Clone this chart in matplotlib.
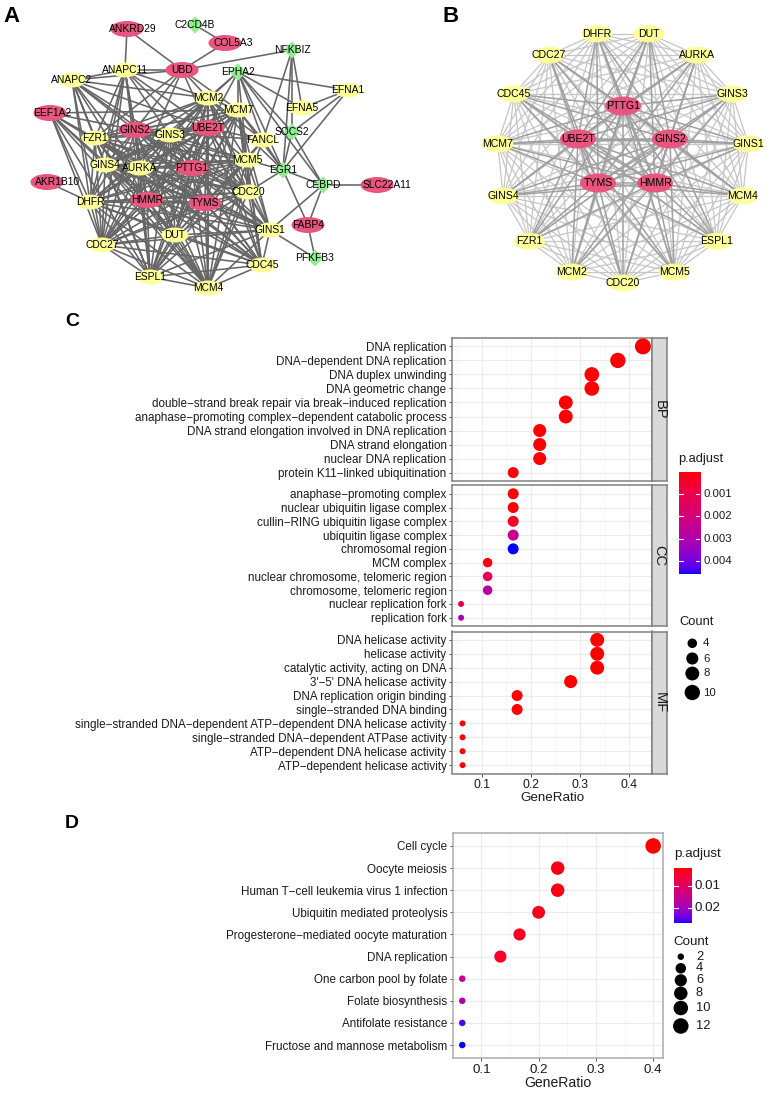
import numpy as np
import matplotlib
matplotlib.use("Agg")
import matplotlib.pyplot as plt
from matplotlib import font_manager
from matplotlib.patches import Ellipse, Polygon
from matplotlib.collections import LineCollection
from itertools import combinations

W, H, DPI = 770, 1095, 100

_names = {f.name for f in font_manager.fontManager.ttflist}
NARROW = 'Liberation Sans Narrow' in _names
GG_FAMILY = ['Liberation Sans Narrow' if NARROW else 'Liberation Sans', 'DejaVu Sans']
GG_K = 1.0 if NARROW else 0.84
plt.rcParams['font.family'] = ['Liberation Sans', 'DejaVu Sans']


def gg(size):
    return dict(fontfamily=GG_FAMILY, fontsize=size * GG_K)

# ----------------------------------------------------------------- data
# Panel C: GO enrichment
bp_terms = ['DNA replication', 'DNA−dependent DNA replication', 'DNA duplex unwinding',
            'DNA geometric change', 'double−strand break repair via break−induced replication',
            'anaphase−promoting complex−dependent catabolic process',
            'DNA strand elongation involved in DNA replication', 'DNA strand elongation',
            'nuclear DNA replication', 'protein K11−linked ubiquitination']
bp_ratio = [0.428, 0.377, 0.324, 0.324, 0.271, 0.271, 0.218, 0.218, 0.218, 0.164]
bp_count = [11, 10, 9, 9, 8, 8, 7, 7, 7, 5]
bp_padj = [2e-7, 4e-7, 1e-6, 1e-6, 5e-6, 8e-6, 1e-5, 1e-5, 2e-5, 6e-5]

cc_terms = ['anaphase−promoting complex', 'nuclear ubiquitin ligase complex',
            'cullin−RING ubiquitin ligase complex', 'ubiquitin ligase complex',
            'chromosomal region', 'MCM complex', 'nuclear chromosome, telomeric region',
            'chromosome, telomeric region', 'nuclear replication fork', 'replication fork']
cc_ratio = [0.164, 0.164, 0.164, 0.164, 0.164, 0.112, 0.112, 0.112, 0.058, 0.058]
cc_count = [5, 5, 5, 5, 5, 4, 4, 4, 3, 3]
cc_padj = [2e-5, 5e-5, 4e-4, 2.4e-3, 4.6e-3, 1e-4, 1.2e-3, 2.7e-3, 1.2e-3, 3.1e-3]

mf_terms = ['DNA helicase activity', 'helicase activity', 'catalytic activity, acting on DNA',
            "3'−5' DNA helicase activity", 'DNA replication origin binding',
            'single−stranded DNA binding',
            'single−stranded DNA−dependent ATP−dependent DNA helicase activity',
            'single−stranded DNA−dependent ATPase activity',
            'ATP−dependent DNA helicase activity', 'ATP−dependent helicase activity']
mf_ratio = [0.335, 0.335, 0.335, 0.281, 0.172, 0.172, 0.061, 0.061, 0.061, 0.061]
mf_count = [8, 8, 8, 7, 5, 5, 3, 3, 3, 3]
mf_padj = [3e-6, 3e-6, 5e-6, 1e-5, 3e-5, 4e-5, 6e-5, 6e-5, 7e-5, 7e-5]

facet_names = ['BP', 'CC', 'MF']
c_padj_ticks = [0.001, 0.002, 0.003, 0.004]
c_count_breaks = [4, 6, 8, 10]

# Panel D: KEGG enrichment
kegg_terms = ['Cell cycle', 'Oocyte meiosis', 'Human T−cell leukemia virus 1 infection',
              'Ubiquitin mediated proteolysis', 'Progesterone−mediated oocyte maturation',
              'DNA replication', 'One carbon pool by folate', 'Folate biosynthesis',
              'Antifolate resistance', 'Fructose and mannose metabolism']
kegg_ratio = [0.4, 0.2333, 0.2333, 0.2, 0.1667, 0.1333, 0.0667, 0.0667, 0.0667, 0.0667]
kegg_count = [12, 8, 8, 7, 6, 6, 2, 2, 2, 2]
kegg_padj = [0.0021, 0.003, 0.003, 0.0035, 0.004, 0.0045, 0.0146, 0.0185, 0.0258, 0.0271]
d_padj_ticks = [0.01, 0.02]
d_count_breaks = [2, 4, 6, 8, 10, 12]
ratio_ticks = [0.1, 0.2, 0.3, 0.4]
ratio_tick_labels = ['0.1', '0.2', '0.3', '0.4']

# Panel A: PPI network
a_pink = ['ANKRD29', 'COL5A3', 'UBD', 'EEF1A2', 'GINS2', 'UBE2T', 'PTTG1', 'AKR1B10',
          'SLC22A11', 'HMMR', 'TYMS', 'FABP4']
a_green = ['C2CD4B', 'NFKBIZ', 'EPHA2', 'SOCS2', 'EGR1', 'CEBPD', 'PFKFB3']
hub_genes = ['CDC20', 'MCM5', 'ESPL1', 'MCM4', 'GINS1', 'GINS3', 'AURKA', 'DUT', 'DHFR',
             'CDC27', 'CDC45', 'MCM7', 'GINS4', 'FZR1', 'MCM2']
hub_top = ['PTTG1', 'UBE2T', 'GINS2', 'TYMS', 'HMMR']
a_extra_edges = [
    ('ANKRD29', 'ANAPC11'), ('ANKRD29', 'UBD'), ('C2CD4B', 'COL5A3'), ('COL5A3', 'UBD'),
    ('UBD', 'NFKBIZ'), ('UBD', 'ANAPC11'), ('UBD', 'MCM2'), ('UBD', 'MCM7'), ('UBD', 'GINS2'),
    ('UBD', 'FZR1'), ('UBD', 'UBE2T'), ('UBD', 'ANAPC2'), ('UBD', 'AURKA'),
    ('ANAPC11', 'ANAPC2'), ('ANAPC11', 'FZR1'), ('ANAPC11', 'CDC27'), ('ANAPC11', 'CDC20'),
    ('ANAPC11', 'AURKA'), ('ANAPC11', 'PTTG1'), ('ANAPC11', 'UBE2T'), ('ANAPC11', 'GINS2'),
    ('ANAPC11', 'MCM2'), ('ANAPC11', 'DHFR'), ('ANAPC11', 'GINS4'), ('ANAPC11', 'HMMR'),
    ('ANAPC11', 'ESPL1'),
    ('ANAPC2', 'FZR1'), ('ANAPC2', 'CDC27'), ('ANAPC2', 'CDC20'), ('ANAPC2', 'AURKA'),
    ('ANAPC2', 'PTTG1'), ('ANAPC2', 'UBE2T'), ('ANAPC2', 'MCM2'), ('ANAPC2', 'GINS2'),
    ('ANAPC2', 'DHFR'), ('ANAPC2', 'GINS4'), ('ANAPC2', 'ESPL1'), ('ANAPC2', 'HMMR'),
    ('EEF1A2', 'MCM7'), ('EEF1A2', 'FZR1'), ('EEF1A2', 'GINS4'), ('EEF1A2', 'DHFR'),
    ('EEF1A2', 'CDC27'), ('EEF1A2', 'AURKA'), ('EEF1A2', 'HMMR'), ('EEF1A2', 'ESPL1'),
    ('EEF1A2', 'MCM4'), ('EEF1A2', 'GINS2'),
    ('AKR1B10', 'DHFR'),
    ('EPHA2', 'EFNA1'), ('EPHA2', 'EFNA5'), ('EPHA2', 'EGR1'), ('EPHA2', 'CEBPD'),
    ('EPHA2', 'SOCS2'), ('EPHA2', 'FANCL'), ('EPHA2', 'MCM2'), ('EPHA2', 'MCM7'),
    ('EPHA2', 'GINS3'), ('EPHA2', 'UBE2T'), ('EPHA2', 'MCM5'),
    ('NFKBIZ', 'EGR1'), ('NFKBIZ', 'SOCS2'), ('NFKBIZ', 'FANCL'), ('NFKBIZ', 'EFNA5'),
    ('EFNA1', 'EFNA5'), ('EFNA1', 'EGR1'), ('EFNA1', 'SOCS2'),
    ('SOCS2', 'EGR1'), ('SOCS2', 'CEBPD'),
    ('EGR1', 'CEBPD'), ('EGR1', 'MCM5'), ('EGR1', 'CDC20'), ('EGR1', 'FABP4'),
    ('EGR1', 'FANCL'), ('EGR1', 'MCM7'), ('EGR1', 'MCM2'),
    ('CEBPD', 'SLC22A11'), ('CEBPD', 'GINS1'), ('CEBPD', 'FABP4'),
    ('FABP4', 'PFKFB3'), ('GINS1', 'PFKFB3'),
    ('FANCL', 'UBE2T'), ('FANCL', 'MCM2'), ('FANCL', 'MCM7'), ('FANCL', 'MCM5'),
    ('FANCL', 'GINS2'), ('FANCL', 'MCM4'), ('FANCL', 'TYMS'),
]

# ----------------------------------------------------------------- layout (pixels)
A_LAYOUT = {
    'ANKRD29': (127, 29), 'C2CD4B': (195, 25), 'COL5A3': (225, 43), 'NFKBIZ': (292, 50),
    'UBD': (182, 70), 'ANAPC11': (125, 70), 'ANAPC2': (72, 80), 'EPHA2': (238, 72),
    'EFNA1': (348, 90), 'MCM2': (208, 98), 'MCM7': (238, 110), 'EFNA5': (302, 108),
    'EEF1A2': (50, 113), 'GINS2': (135, 130), 'GINS3': (170, 135), 'UBE2T': (208, 128),
    'FZR1': (95, 138), 'FANCL': (263, 140), 'SOCS2': (292, 132), 'GINS4': (105, 165),
    'AURKA': (140, 168), 'PTTG1': (192, 168), 'MCM5': (247, 160), 'EGR1': (283, 170),
    'AKR1B10': (47, 182), 'CEBPD': (323, 185), 'SLC22A11': (377, 185), 'DHFR': (90, 202),
    'HMMR': (147, 200), 'TYMS': (205, 203), 'CDC20': (248, 192), 'FABP4': (308, 225),
    'DUT': (175, 235), 'GINS1': (270, 230), 'CDC27': (102, 245), 'PFKFB3': (315, 258),
    'CDC45': (262, 265), 'ESPL1': (150, 277), 'MCM4': (208, 288)}
A_LABEL_DX = {'ANKRD29': 6, 'COL5A3': 8, 'EEF1A2': 2, 'AKR1B10': 11, 'SLC22A11': 10}
B_INNER = {'PTTG1': (623, 106), 'UBE2T': (578, 139), 'GINS2': (670, 139),
           'TYMS': (598, 183), 'HMMR': (655, 183)}

PINK, YELLOW, GREEN = '#E8567F', '#FFFF99', '#90EE90'


def frect(x0, y0, x1, y1):
    return [x0 / W, 1 - y1 / H, (x1 - x0) / W, (y1 - y0) / H]


# ----------------------------------------------------------------- colour scale
_M = np.array([[0.4124564, 0.3575761, 0.1804375],
               [0.2126729, 0.7151522, 0.0721750],
               [0.0193339, 0.1191920, 0.9503041]])
_WP = np.array([0.95047, 1.0, 1.08883])


def srgb_to_lab(rgb):
    rgb = np.asarray(rgb, float)
    lin = np.where(rgb <= 0.04045, rgb / 12.92, ((rgb + 0.055) / 1.055) ** 2.4)
    xyz = (_M @ lin) / _WP
    d = 6 / 29
    f = np.where(xyz > d ** 3, np.cbrt(xyz), xyz / (3 * d * d) + 4 / 29)
    return np.array([116 * f[1] - 16, 500 * (f[0] - f[1]), 200 * (f[1] - f[2])])


def lab_to_srgb(lab):
    L, a, b = lab
    fy = (L + 16) / 116
    f = np.array([fy + a / 500, fy, fy - b / 200])
    d = 6 / 29
    xyz = np.where(f > d, f ** 3, 3 * d * d * (f - 4 / 29)) * _WP
    lin = np.clip(np.linalg.inv(_M) @ xyz, 0, 1)
    rgb = np.where(lin <= 0.0031308, 12.92 * lin, 1.055 * lin ** (1 / 2.4) - 0.055)
    return np.clip(rgb, 0, 1)


LAB_RED = srgb_to_lab([1, 0, 0])
LAB_BLUE = srgb_to_lab([0, 0, 1])


def grad_color(t):
    t = float(np.clip(t, 0, 1))
    return lab_to_srgb(LAB_RED + (LAB_BLUE - LAB_RED) * t)


# ----------------------------------------------------------------- figure
fig = plt.figure(figsize=(W / DPI, H / DPI), dpi=DPI)
ov = fig.add_axes([0, 0, 1, 1], zorder=10)
ov.set_xlim(0, W)
ov.set_ylim(H, 0)
ov.axis('off')
ov.patch.set_alpha(0)

TXT = '#1A1A1A'

# panel letters
for lab, (x, y, fs) in {'A': (12, 16, 16), 'B': (451, 16, 16),
                        'C': (72, 322, 14), 'D': (72, 823, 14)}.items():
    ov.text(x, y, lab, fontsize=fs, fontweight='bold', ha='center', va='center',
            family=['Liberation Sans', 'DejaVu Sans'])


def draw_node(name, x, y, kind, big=False, dx=0, fs=7.4):
    if kind == 'pink':
        w, h = (36, 19) if big else (33, 16)
        ov.add_patch(Ellipse((x, y), w, h, facecolor=PINK, edgecolor='none', zorder=3))
    elif kind == 'green':
        s = 8.5
        ov.add_patch(Polygon([(x, y - s), (x + s, y), (x, y + s), (x - s, y)], closed=True,
                             facecolor=GREEN, edgecolor='none', zorder=3))
    else:
        w, h = (31, 17) if big else (27, 15)
        ov.add_patch(Ellipse((x, y), w, h, facecolor=YELLOW, edgecolor='none', zorder=3))
    ov.text(x + dx, y, name, fontsize=fs, ha='center', va='center', color='black', zorder=4)


# ---- Panel A network
a_edges = list(combinations(hub_genes + hub_top, 2)) + a_extra_edges
segs = [[A_LAYOUT[u], A_LAYOUT[v]] for u, v in a_edges]
ov.add_collection(LineCollection(segs, colors='#666666', linewidths=1.15, zorder=2))
for name, (x, y) in A_LAYOUT.items():
    kind = 'pink' if name in a_pink else ('green' if name in a_green else 'yellow')
    draw_node(name, x, y, kind, dx=A_LABEL_DX.get(name, 0))

# ---- Panel B network (circular layout)
B_CX, B_CY, B_R = 623, 157, 126
b_pos = {}
for i, g in enumerate(hub_genes):
    ang = np.deg2rad(270 + 24 * i)
    b_pos[g] = (B_CX + B_R * np.cos(ang), B_CY - B_R * np.sin(ang))
b_pos.update(B_INNER)
light, dark = [], []
for u, v in combinations(hub_genes + hub_top, 2):
    (dark if (u in hub_top or v in hub_top) else light).append([b_pos[u], b_pos[v]])
ov.add_collection(LineCollection(light, colors='#C6C6C6', linewidths=0.9, zorder=2))
ov.add_collection(LineCollection(dark, colors='#A0A0A0', linewidths=1.1, zorder=2))
for g, (x, y) in b_pos.items():
    draw_node(g, x, y, 'pink' if g in hub_top else 'yellow', big=True, fs=7.6)


# ----------------------------------------------------------------- dot plots
def c_size(c):
    return 6.0 + 10.0 * np.sqrt((np.asarray(c, float) - 3) / 8.0)


def d_size(c):
    return 6.5 + 9.0 * np.sqrt((np.asarray(c, float) - 2) / 10.0)


def px_to_s(d):
    return (np.asarray(d) * 72.0 / DPI) ** 2


def style_panel(ax, xlim, border):
    ax.set_xlim(*xlim)
    ax.set_xticks(ratio_ticks)
    minors = [m for m in np.arange(0.05, 0.5, 0.1) if xlim[0] < m < xlim[1]]
    ax.set_xticks(minors, minor=True)
    ax.grid(which='major', color='#EBEBEB', lw=0.8, zorder=0)
    ax.grid(which='minor', axis='x', color='#F4F4F4', lw=0.5, zorder=0)
    ax.set_axisbelow(True)
    for sp in ax.spines.values():
        sp.set_color(border)
        sp.set_linewidth(1.1)
    ax.tick_params(axis='both', which='major', length=2.4, width=0.6, color='#333333',
                   pad=1.5, labelcolor=TXT)
    ax.tick_params(axis='both', which='minor', length=0)


def dot_panel(ax, terms, ratio, count, padj, xlim, sizefn, vmin, vmax, border):
    n = len(terms)
    ys = np.arange(n)[::-1]
    cols = [grad_color((p - vmin) / (vmax - vmin)) for p in padj]
    ax.scatter(ratio, ys, s=px_to_s(sizefn(count)), c=cols, edgecolors='none', zorder=3,
               clip_on=False)
    ax.set_ylim(-0.6, n - 0.4)
    style_panel(ax, xlim, border)
    ax.set_yticks(ys)
    ax.set_yticklabels(terms, **gg(10))


def expand(vals):
    lo, hi = min(vals), max(vals)
    r = hi - lo
    return (lo - 0.05 * r, hi + 0.05 * r)


# ---- Panel C
c_all_ratio = bp_ratio + cc_ratio + mf_ratio
c_all_p = bp_padj + cc_padj + mf_padj
c_xlim = expand(c_all_ratio)
c_vmin, c_vmax = min(c_all_p), max(c_all_p)
C_X0, C_X1, C_S1 = 452, 652, 667
c_rows = [(338, 481), (485.5, 626), (631.5, 773.5)]
c_data = [(bp_terms, bp_ratio, bp_count, bp_padj), (cc_terms, cc_ratio, cc_count, cc_padj),
          (mf_terms, mf_ratio, mf_count, mf_padj)]
for k, ((y0, y1), (terms, ratio, count, padj)) in enumerate(zip(c_rows, c_data)):
    ax = fig.add_axes(frect(C_X0, y0, C_X1, y1))
    dot_panel(ax, terms, ratio, count, padj, c_xlim, c_size, c_vmin, c_vmax, '#808080')
    if k < 2:
        ax.tick_params(axis='x', which='both', bottom=False, labelbottom=False)
    else:
        ax.set_xticklabels(ratio_tick_labels, **gg(10.5))
    sax = fig.add_axes(frect(C_X1, y0, C_S1, y1))
    sax.set_facecolor('#D9D9D9')
    sax.set_xticks([])
    sax.set_yticks([])
    for sp in sax.spines.values():
        sp.set_color('#808080')
        sp.set_linewidth(1.1)
    sax.text(0.5, 0.5, facet_names[k], rotation=-90, ha='center', va='center',
             transform=sax.transAxes, color=TXT, **gg(12.5))

ov.text((C_X0 + C_X1) / 2, 798, 'GeneRatio', ha='center', va='center', color=TXT, **gg(11.5))


def colorbar(x0, y0, x1, y1, vmin, vmax, ticks, title_y, fs_tick, fs_title):
    cax = fig.add_axes(frect(x0, y0, x1, y1))
    grad = np.array([grad_color(t) for t in np.linspace(0, 1, 256)])[:, None, :]
    cax.imshow(grad, aspect='auto', extent=(0, 1, vmax, vmin), origin='upper')
    for v in ticks:
        cax.plot([0, 0.2], [v, v], color='white', lw=0.8)
        cax.plot([0.8, 1], [v, v], color='white', lw=0.8)
    cax.set_xlim(0, 1)
    cax.set_ylim(vmax, vmin)
    cax.axis('off')
    for v in ticks:
        yy = y0 + (v - vmin) / (vmax - vmin) * (y1 - y0)
        ov.text(x1 + 3, yy, f'{v:g}', ha='left', va='center', color=TXT, **gg(fs_tick))
    ov.text(x0, title_y, 'p.adjust', ha='left', va='center', color=TXT, **gg(fs_title))


def size_legend(x_title, y_title, xc, ys, breaks, sizefn, xl, fs_tick, fs_title):
    ov.text(x_title, y_title, 'Count', ha='left', va='center', color=TXT, **gg(fs_title))
    ov.scatter([xc] * len(breaks), ys, s=px_to_s(sizefn(breaks)), c='black',
               edgecolors='none', zorder=5)
    for b, yy in zip(breaks, ys):
        ov.text(xl, yy, str(b), ha='left', va='center', color=TXT, **gg(fs_tick))


colorbar(678.5, 471.7, 700, 574.3, c_vmin, c_vmax, c_padj_ticks, 459, 9.8, 11)
size_legend(679, 621.7, 692.3, [643.3, 658.5, 673.5, 692.5], c_count_breaks, c_size,
            703, 9.8, 11)

# ---- Panel D
D_X0, D_X1, D_Y0, D_Y1 = 452.7, 662.7, 832.7, 1058.3
d_xlim = expand(kegg_ratio)
d_vmin, d_vmax = min(kegg_padj), max(kegg_padj)
axd = fig.add_axes(frect(D_X0, D_Y0, D_X1, D_Y1))
dot_panel(axd, kegg_terms, kegg_ratio, kegg_count, kegg_padj, d_xlim, d_size, d_vmin, d_vmax,
          '#ABABAB')
axd.set_xticklabels(ratio_tick_labels, **gg(11.5))
ov.text((D_X0 + D_X1) / 2, 1083, 'GeneRatio', ha='center', va='center', color=TXT, **gg(12))
colorbar(674, 868.3, 691.6, 923.3, d_vmin, d_vmax, d_padj_ticks, 854.3, 11.5, 11.5)
size_legend(673, 941.7, 680.8, [956.7, 968.3, 980.3, 993.3, 1008, 1026], d_count_breaks,
            d_size, 696, 11, 11.5)

fig.savefig('out.png', dpi=DPI)
